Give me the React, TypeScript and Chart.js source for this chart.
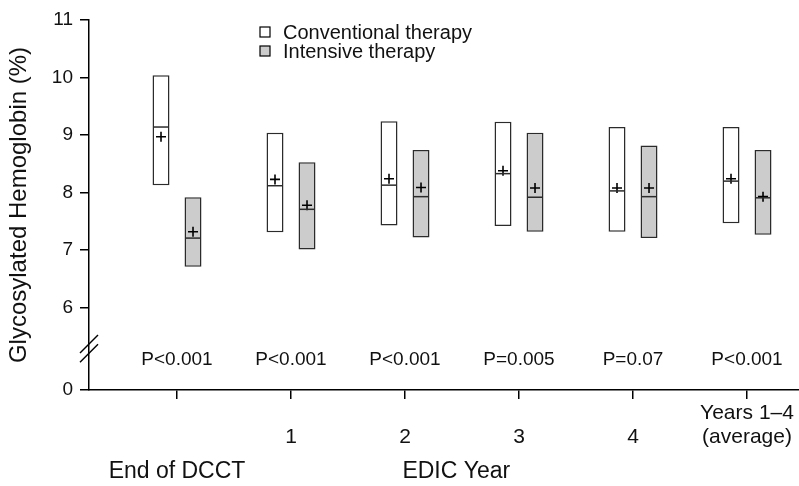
import React, { useEffect, useRef } from 'react';
import { Chart, registerables } from 'chart.js';

Chart.register(...registerables);

// ---- data ----
const categories = ['End of DCCT', '1', '2', '3', '4', 'Years 1–4 (average)'];
const xTickLabels: string[][] = [[''], ['', '1'], ['', '2'], ['', '3'], ['', '4'], ['Years 1–4', '(average)']];
const groupLabels = ['End of DCCT', 'EDIC Year'];

const convHigh = [10.04, 9.04, 9.24, 9.23, 9.14, 9.14];
const convLow = [8.13, 7.31, 7.43, 7.42, 7.32, 7.47];
const convMedian = [9.14, 8.12, 8.13, 8.33, 8.03, 8.2];
const convMean = [8.97, 8.23, 8.24, 8.38, 8.08, 8.24];

const intHigh = [7.92, 8.53, 8.74, 9.04, 8.82, 8.74];
const intLow = [6.71, 7.01, 7.22, 7.32, 7.21, 7.27];
const intMedian = [7.21, 7.71, 7.93, 7.92, 7.93, 7.91];
const intMean = [7.32, 7.78, 8.09, 8.08, 8.08, 7.93];

const pValues = ['P<0.001', 'P<0.001', 'P<0.001', 'P=0.005', 'P=0.07', 'P<0.001'];

const yTickLabels = [0, 6, 7, 8, 9, 10, 11];
const seriesLabels = ['Conventional therapy', 'Intensive therapy'];

// ---- layout constants (scale positions, not data) ----
const Y_ZERO = 4.57; // where the "0" of the broken axis sits on the linear scale
const Y_MAX = 11;
const P_ROW = 5.09;
const BREAK_A = 5.37;
const BREAK_B = 5.21;
const X_MIN = -0.772;
const X_MAX = 5.456;
const PAIR_OFFSET = 0.1404;
const GROUP_POS = [0, 2.45];

const FONT = "'Liberation Sans', Arial, Helvetica, sans-serif";
const TEXT = '#111111';
const EDGE = '#2b2b2b';
const CONV_FILL = '#ffffff';
const INT_FILL = '#cccccc';

const overlay = {
  id: 'overlay',
  afterDraw(chart: any) {
    const { ctx, scales } = chart;
    const xs = scales.x;
    const ys = scales.y;
    ctx.save();
    // P values
    ctx.fillStyle = TEXT;
    ctx.font = `19px ${FONT}`;
    ctx.textAlign = 'center';
    ctx.textBaseline = 'middle';
    const py = ys.getPixelForValue(P_ROW);
    pValues.forEach((p, i) => {
      ctx.fillText(p, xs.getPixelForValue(i), py);
    });
    // group labels
    ctx.font = `23px ${FONT}`;
    const gy = ys.bottom + 82;
    groupLabels.forEach((g, i) => {
      ctx.fillText(g, xs.getPixelForValue(GROUP_POS[i]), gy);
    });

    // axis break
    ctx.strokeStyle = '#000';
    ctx.lineWidth = 1.5;
    const ax = ys.right;
    [BREAK_A, BREAK_B].forEach((v) => {
      const by = ys.getPixelForValue(v);
      ctx.beginPath();
      ctx.moveTo(ax - 9, by + 9);
      ctx.lineTo(ax + 9, by - 9);
      ctx.stroke();
    });

    // legend
    const fills = [CONV_FILL, INT_FILL];
    const lx = 260;
    const ly = [32, 51];
    ctx.font = `20px ${FONT}`;
    ctx.textAlign = 'left';
    seriesLabels.forEach((lab, i) => {
      ctx.fillStyle = fills[i];
      ctx.fillRect(lx, ly[i] - 5, 10, 10);
      ctx.strokeStyle = '#000';
      ctx.lineWidth = 1.2;
      ctx.strokeRect(lx, ly[i] - 5, 10, 10);
      ctx.fillStyle = TEXT;
      ctx.fillText(lab, lx + 23, ly[i] + 1);
    });
    ctx.restore();
  },
};

export default function App() {
  const ref = useRef<HTMLCanvasElement | null>(null);

  useEffect(() => {
    if (!ref.current) return;
    const idx = categories.map((_, i) => i);
    const chart = new Chart(ref.current, {
      type: 'bar',
      data: {
        datasets: [
          {
            type: 'scatter',
            label: 'conv-median',
            data: idx.map((i) => ({ x: i - PAIR_OFFSET, y: convMedian[i] })),
            pointStyle: 'line',
            pointRadius: 8,
            pointBorderWidth: 1.5,
            borderColor: EDGE,
            backgroundColor: EDGE,
            order: 0,
          } as any,
          {
            type: 'scatter',
            label: 'int-median',
            data: idx.map((i) => ({ x: i + PAIR_OFFSET, y: intMedian[i] })),
            pointStyle: 'line',
            pointRadius: 8,
            pointBorderWidth: 1.5,
            borderColor: EDGE,
            backgroundColor: EDGE,
            order: 0,
          } as any,
          {
            type: 'scatter',
            label: 'conv-mean',
            data: idx.map((i) => ({ x: i - PAIR_OFFSET, y: convMean[i] })),
            pointStyle: 'cross',
            pointRadius: 5,
            pointBorderWidth: 1.6,
            borderColor: '#000',
            backgroundColor: '#000',
            order: 0,
          } as any,
          {
            type: 'scatter',
            label: 'int-mean',
            data: idx.map((i) => ({ x: i + PAIR_OFFSET, y: intMean[i] })),
            pointStyle: 'cross',
            pointRadius: 5,
            pointBorderWidth: 1.6,
            borderColor: '#000',
            backgroundColor: '#000',
            order: 0,
          } as any,
          {
            type: 'bar',
            label: seriesLabels[0],
            data: idx.map((i) => ({ x: i, y: [convLow[i], convHigh[i]] })) as any,
            backgroundColor: CONV_FILL,
            borderColor: EDGE,
            borderWidth: 1.5,
            borderSkipped: false,
            categoryPercentage: 0.5614,
            barPercentage: 0.53,
            order: 1,
          } as any,
          {
            type: 'bar',
            label: seriesLabels[1],
            data: idx.map((i) => ({ x: i, y: [intLow[i], intHigh[i]] })) as any,
            backgroundColor: INT_FILL,
            borderColor: EDGE,
            borderWidth: 1.5,
            borderSkipped: false,
            categoryPercentage: 0.5614,
            barPercentage: 0.53,
            order: 1,
          } as any,
        ],
      },
      options: {
        responsive: false,
        animation: false,
        devicePixelRatio: 1,
        layout: { autoPadding: false, padding: { top: 20, right: 0, bottom: 0, left: 0 } },
        plugins: {
          legend: { display: false },
          tooltip: { enabled: false },
        },
        scales: {
          x: {
            type: 'linear',
            offset: false,
            min: X_MIN,
            max: X_MAX,
            afterBuildTicks: (s: any) => {
              s.ticks = idx.map((i) => ({ value: i }));
            },
            afterFit: (s: any) => {
              s.height = 96;
              s.paddingLeft = 0;
              s.paddingRight = 0;
            },
            ticks: {
              callback: (_v: any, i: number) => xTickLabels[i],
              font: { size: 21, family: FONT, lineHeight: 1.143 },
              color: TEXT,
              padding: 2.5,
              autoSkip: false,
              maxRotation: 0,
              minRotation: 0,
            },
            grid: {
              offset: false,
              drawOnChartArea: false,
              drawTicks: true,
              tickLength: 9,
              color: '#000',
              lineWidth: 1.5,
            },
            border: { display: true, color: '#000', width: 1.5 },
          },
          y: {
            type: 'linear',
            min: Y_ZERO,
            max: Y_MAX,
            afterBuildTicks: (s: any) => {
              s.ticks = yTickLabels.map((v) => ({ value: v === 0 ? Y_ZERO : v }));
            },
            afterFit: (s: any) => {
              s.width = 89;
            },
            ticks: {
              callback: (_v: any, i: number) => String(yTickLabels[i]),
              font: { size: 19, family: FONT },
              color: TEXT,
              padding: 7,
            },
            grid: {
              drawOnChartArea: false,
              drawTicks: true,
              tickLength: 9,
              color: '#000',
              lineWidth: 1.5,
            },
            border: { display: true, color: '#000', width: 1.5 },
            title: {
              display: true,
              text: 'Glycosylated Hemoglobin (%)',
              font: { size: 24, family: FONT },
              color: TEXT,
              padding: { top: 5, bottom: 0 },
            },
          },
        },
      },
      plugins: [overlay],
    });
    return () => chart.destroy();
  }, []);

  return (
    <div style={{ position: 'fixed', left: 0, top: 0, width: 799, height: 486, background: '#fff' }}>
      <canvas ref={ref} width={799} height={486} style={{ display: 'block' }} />
    </div>
  );
}
